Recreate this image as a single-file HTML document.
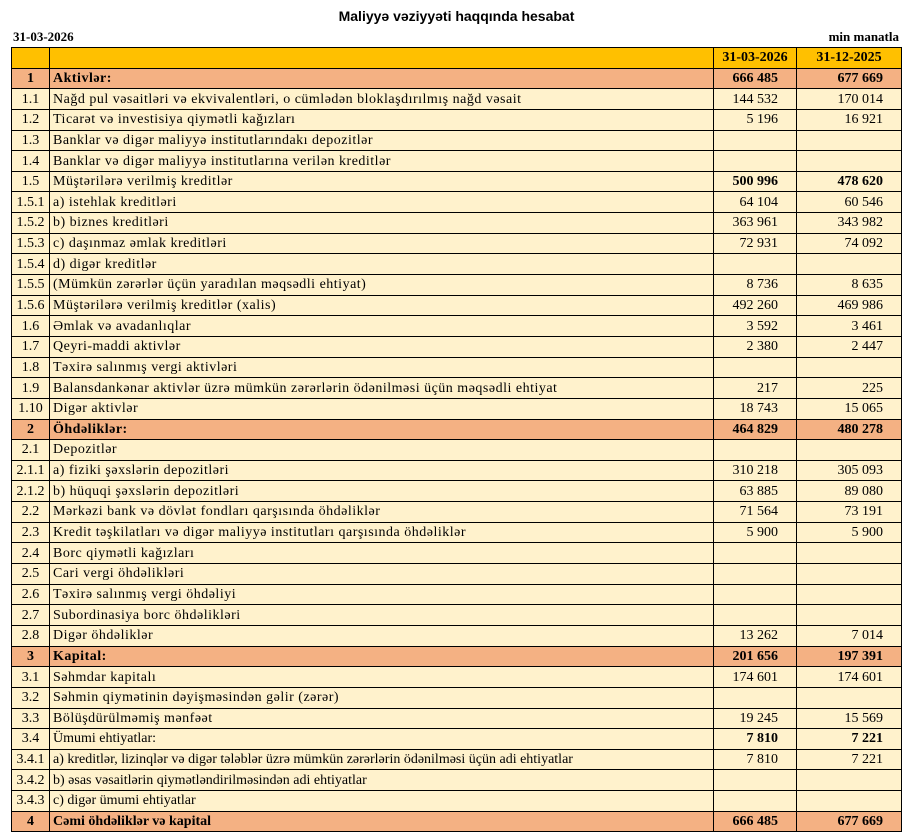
<!DOCTYPE html>
<html><head><meta charset="utf-8"><style>
body{margin:0;background:#fff;width:913px;height:838px;overflow:hidden;font-family:"Liberation Serif",serif;}
.t{position:absolute;left:0;top:8px;width:913px;text-align:center;font:bold 14px "Liberation Sans",sans-serif;}
.d{position:absolute;left:13px;top:29px;font:bold 13px "Liberation Serif",serif;}
.m{position:absolute;right:14px;top:29px;font:bold 13px "Liberation Serif",serif;}
table{position:absolute;left:11px;top:47px;border-collapse:collapse;width:890px;table-layout:fixed;font-size:14px;}
tr{height:20.65px;}
td{border:1.5px solid #000;padding:0 3px;line-height:17px;white-space:nowrap;overflow:hidden;background:#FFF2CC;}
td:nth-child(2){letter-spacing:0.5px;}
tr.c td:nth-child(2){letter-spacing:0;}
td:first-child{text-align:center;padding:0;}
td.v{text-align:right;padding-right:18px;}
tr.h td{background:#FFC000;font-weight:bold;text-align:center;padding:0;}
tr.s td{background:#F4B183;font-weight:bold;}
tr.b td.v{font-weight:bold;}
</style></head><body>
<div class="t">Maliyyə vəziyyəti haqqında hesabat</div>
<div class="d">31-03-2026</div>
<div class="m">min manatla</div>
<table>
<colgroup><col style="width:38px"><col style="width:664px"><col style="width:83px"><col style="width:105px"></colgroup>
<tr class="h"><td></td><td></td><td>31-03-2026</td><td>31-12-2025</td></tr>
<tr class="s"><td>1</td><td>Aktivlər:</td><td class="v">666 485</td><td class="v">677 669</td></tr>
<tr><td>1.1</td><td>Nağd pul vəsaitləri və  ekvivalentləri, o cümlədən bloklaşdırılmış nağd vəsait</td><td class="v">144 532</td><td class="v">170 014</td></tr>
<tr><td>1.2</td><td>Ticarət və investisiya qiymətli kağızları</td><td class="v">5 196</td><td class="v">16 921</td></tr>
<tr><td>1.3</td><td>Banklar və digər maliyyə institutlarındakı depozitlər</td><td class="v"></td><td class="v"></td></tr>
<tr><td>1.4</td><td>Banklar və digər maliyyə institutlarına verilən kreditlər</td><td class="v"></td><td class="v"></td></tr>
<tr class="b"><td>1.5</td><td>Müştərilərə verilmiş kreditlər</td><td class="v">500 996</td><td class="v">478 620</td></tr>
<tr><td>1.5.1</td><td>a) istehlak kreditləri</td><td class="v">64 104</td><td class="v">60 546</td></tr>
<tr><td>1.5.2</td><td>b) biznes kreditləri</td><td class="v">363 961</td><td class="v">343 982</td></tr>
<tr><td>1.5.3</td><td>c) daşınmaz əmlak kreditləri</td><td class="v">72 931</td><td class="v">74 092</td></tr>
<tr><td>1.5.4</td><td>d) digər kreditlər</td><td class="v"></td><td class="v"></td></tr>
<tr><td>1.5.5</td><td>(Mümkün zərərlər üçün yaradılan məqsədli ehtiyat)</td><td class="v">8 736</td><td class="v">8 635</td></tr>
<tr><td>1.5.6</td><td>Müştərilərə verilmiş kreditlər (xalis)</td><td class="v">492 260</td><td class="v">469 986</td></tr>
<tr><td>1.6</td><td>Əmlak və avadanlıqlar</td><td class="v">3 592</td><td class="v">3 461</td></tr>
<tr><td>1.7</td><td>Qeyri-maddi aktivlər</td><td class="v">2 380</td><td class="v">2 447</td></tr>
<tr><td>1.8</td><td>Təxirə salınmış vergi aktivləri</td><td class="v"></td><td class="v"></td></tr>
<tr><td>1.9</td><td>Balansdankənar aktivlər üzrə mümkün zərərlərin ödənilməsi üçün məqsədli ehtiyat</td><td class="v">217</td><td class="v">225</td></tr>
<tr><td>1.10</td><td>Digər aktivlər</td><td class="v">18 743</td><td class="v">15 065</td></tr>
<tr class="s"><td>2</td><td>Öhdəliklər:</td><td class="v">464 829</td><td class="v">480 278</td></tr>
<tr><td>2.1</td><td>Depozitlər</td><td class="v"></td><td class="v"></td></tr>
<tr><td>2.1.1</td><td>a) fiziki şəxslərin depozitləri</td><td class="v">310 218</td><td class="v">305 093</td></tr>
<tr><td>2.1.2</td><td>b) hüquqi şəxslərin depozitləri</td><td class="v">63 885</td><td class="v">89 080</td></tr>
<tr><td>2.2</td><td>Mərkəzi bank və dövlət fondları qarşısında öhdəliklər</td><td class="v">71 564</td><td class="v">73 191</td></tr>
<tr><td>2.3</td><td>Kredit təşkilatları və digər maliyyə institutları qarşısında öhdəliklər</td><td class="v">5 900</td><td class="v">5 900</td></tr>
<tr><td>2.4</td><td>Borc qiymətli kağızları</td><td class="v"></td><td class="v"></td></tr>
<tr><td>2.5</td><td>Cari vergi öhdəlikləri</td><td class="v"></td><td class="v"></td></tr>
<tr><td>2.6</td><td>Təxirə salınmış vergi öhdəliyi</td><td class="v"></td><td class="v"></td></tr>
<tr><td>2.7</td><td>Subordinasiya borc öhdəlikləri</td><td class="v"></td><td class="v"></td></tr>
<tr><td>2.8</td><td>Digər öhdəliklər</td><td class="v">13 262</td><td class="v">7 014</td></tr>
<tr class="s"><td>3</td><td>Kapital:</td><td class="v">201 656</td><td class="v">197 391</td></tr>
<tr><td>3.1</td><td>Səhmdar kapitalı</td><td class="v">174 601</td><td class="v">174 601</td></tr>
<tr><td>3.2</td><td>Səhmin qiymətinin dəyişməsindən gəlir (zərər)</td><td class="v"></td><td class="v"></td></tr>
<tr><td>3.3</td><td>Bölüşdürülməmiş mənfəət</td><td class="v">19 245</td><td class="v">15 569</td></tr>
<tr class="b c"><td>3.4</td><td>Ümumi ehtiyatlar:</td><td class="v">7 810</td><td class="v">7 221</td></tr>
<tr class="c"><td>3.4.1</td><td>a) kreditlər, lizinqlər və digər tələblər üzrə mümkün zərərlərin ödənilməsi üçün adi ehtiyatlar</td><td class="v">7 810</td><td class="v">7 221</td></tr>
<tr class="c"><td>3.4.2</td><td>b) əsas vəsaitlərin qiymətləndirilməsindən adi ehtiyatlar</td><td class="v"></td><td class="v"></td></tr>
<tr class="c"><td>3.4.3</td><td>c) digər ümumi ehtiyatlar</td><td class="v"></td><td class="v"></td></tr>
<tr class="s c"><td>4</td><td>Cəmi öhdəliklər və kapital</td><td class="v">666 485</td><td class="v">677 669</td></tr>
</table>
</body></html>
